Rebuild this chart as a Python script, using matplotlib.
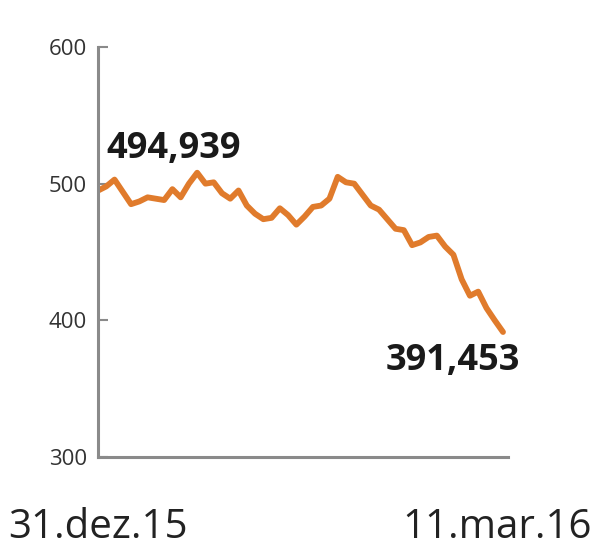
import matplotlib
matplotlib.use("Agg")
import matplotlib.pyplot as plt

# Data
values = [494.9, 498, 503, 494, 485, 487, 490, 489, 488, 496,
          490, 500, 508, 500, 501, 493, 489, 495, 484, 478,
          474, 475, 482, 477, 470, 476, 483, 484, 489, 505,
          501, 500, 492, 484, 481, 474, 467, 466, 455, 457,
          461, 462, 454, 448, 430, 418, 421, 409, 400, 391.453]
y_ticks = [300, 400, 500, 600]
start_label = "31.dez.15"
end_label = "11.mar.16"
first_value_label = "494,939"
last_value_label = "391,453"

plt.rcParams['font.family'] = ['Open Sans', 'DejaVu Sans']

fig = plt.figure(figsize=(6.0, 5.58), dpi=100)
ax = fig.add_axes([98/600, 101/558, 410/600, 410/558])

x = list(range(len(values)))
ax.plot(x, values, color='#e07b2c', lw=4.2, solid_joinstyle='round', solid_capstyle='round')

ax.set_ylim(300, 600)
ax.set_xlim(0, (len(values) - 1) * 410 / 405)
ax.set_yticks(y_ticks)
ax.set_yticklabels([str(v) for v in y_ticks])
ax.set_xticks([])

for s in ['top', 'right']:
    ax.spines[s].set_visible(False)
for s in ['left', 'bottom']:
    ax.spines[s].set_color('#8a8a8a')
    ax.spines[s].set_linewidth(2.2)

ax.tick_params(axis='y', direction='in', length=7, width=1.5, color='#8a8a8a',
               labelsize=16, labelcolor='#333333', pad=8)

ax.text(1.0, 519, first_value_label, fontsize=26, fontweight='bold', color='#1a1a1a',
        ha='left', va='baseline')
ax.text(len(values) - 1 + 2, 370, last_value_label, fontsize=26, fontweight='bold',
        color='#1a1a1a', ha='right', va='center')

fig.text(8/600, 1 - 528/558, start_label, fontsize=29, color='#222222', ha='left', va='center')
fig.text(592/600, 1 - 528/558, end_label, fontsize=29, color='#222222', ha='right', va='center')

fig.savefig('out.png', dpi=100)
